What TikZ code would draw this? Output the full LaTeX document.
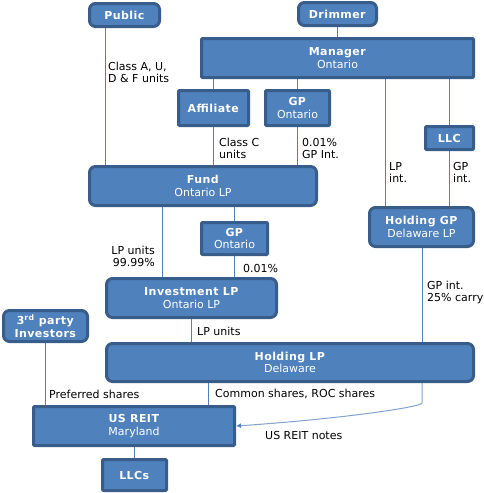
\documentclass[tikz,border=0pt]{standalone}
\usepackage{fontspec}
\setmainfont{DejaVu Sans}[BoldFeatures={LetterSpace=4}]
\usetikzlibrary{arrows.meta,backgrounds}
\definecolor{boxfill}{HTML}{4F81BD}
\definecolor{boxedge}{HTML}{385D8A}
\definecolor{linkc}{HTML}{4F81BD}
\definecolor{notec}{HTML}{7EA3D0}
\tikzset{
  ent/.style={draw=boxedge, fill=boxfill, line width=3pt, text=white, align=center,
    inner sep=0pt, font=\fontsize{11}{12.5}\selectfont, rounded corners=1pt},
  rent/.style={ent, rounded corners=6pt},
  link/.style={draw=linkc, line width=0.8pt},
  lbl/.style={font=\fontsize{11}{12}\selectfont, align=left, inner sep=0pt, anchor=west, text=black}
}
\newcommand{\ttl}[1]{\textbf{#1}}
\begin{document}
\begin{tikzpicture}[x=1pt,y=-1pt]
\useasboundingbox (0,0) rectangle (484,493);
% boxes (outer size minus line width)
\node[rent, minimum width=70pt, minimum height=23pt] (public) at (124.5,15) {\ttl{Public}};
\node[rent, minimum width=78pt, minimum height=23pt] (drimmer) at (337.5,14) {\ttl{Drimmer}};
\node[ent, minimum width=272pt, minimum height=39pt] (manager) at (337.5,58) {\ttl{Manager}\\Ontario};
\node[ent, minimum width=70pt, minimum height=35pt] (affiliate) at (213.5,108) {\ttl{Affiliate}};
\node[ent, minimum width=64pt, minimum height=35pt] (gpa) at (297.5,108) {\ttl{GP}\\Ontario};
\node[ent, minimum width=48pt, minimum height=23pt] (llc) at (449.5,138) {\ttl{LLC}};
\node[rent, minimum width=227pt, minimum height=39pt] (fund) at (203,186) {\ttl{Fund}\\Ontario LP};
\node[rent, minimum width=104pt, minimum height=39pt] (holdgp) at (421.5,227) {\ttl{Holding GP}\\Delaware LP};
\node[ent, minimum width=66pt, minimum height=32pt] (gpb) at (234.5,238.5) {\ttl{GP}\\Ontario};
\node[rent, minimum width=170pt, minimum height=39pt] (invlp) at (191.5,298) {\ttl{Investment LP}\\Ontario LP};
\node[rent, minimum width=84pt, minimum height=31pt] (third) at (45.5,326) {\ttl{3\textsuperscript{rd} party}\\\ttl{Investors}};
\node[rent, minimum width=367pt, minimum height=38pt] (holdlp) at (290,362.5) {\ttl{Holding LP}\\Delaware};
\node[ent, minimum width=201pt, minimum height=39pt] (usreit) at (134,426) {\ttl{US REIT}\\Maryland};
\node[ent, minimum width=64pt, minimum height=31pt] (llcs) at (134.5,475) {\ttl{LLCs}};
% connectors
\begin{scope}[on background layer]
\draw[link] ([xshift=-19.5]public.south) -- ([xshift=-19.5]public.south |- fund.north);
\draw[link] (drimmer.south) -- (drimmer.south |- manager.north);
\draw[link] (affiliate.north |- manager.south) -- (affiliate.north);
\draw[link] (affiliate.south) -- (affiliate.south |- fund.north);
\draw[link] (gpa.north |- manager.south) -- (gpa.north);
\draw[link] (gpa.south) -- (gpa.south |- fund.north);
\draw[link] ([xshift=-36.5]holdgp.north |- manager.south) -- ([xshift=-36.5]holdgp.north);
\draw[link] (llc.north |- manager.south) -- (llc.north);
\draw[link] (llc.south) -- (llc.south |- holdgp.north);
\draw[link] ([xshift=-41]fund.south) -- ([xshift=-41]fund.south |- invlp.north);
\draw[link] (gpb.north |- fund.south) -- (gpb.north);
\draw[link] (gpb.south) -- (gpb.south |- invlp.north);
\draw[link] ([xshift=0.5]holdgp.south) -- ([xshift=0.5]holdgp.south |- holdlp.north);
\draw[link] (invlp.south) -- (invlp.south |- holdlp.north);
\draw[link] (third.south) -- (third.south |- usreit.north);
\draw[link] ([xshift=74]usreit.north |- holdlp.south) -- ([xshift=74]usreit.north);
\draw[link] (usreit.south) -- (usreit.south |- llcs.north);
\draw[draw=notec, line width=1pt, -{Latex[length=5pt,width=5pt,color=linkc]}]
  ([xshift=132]holdlp.south) -- ++(0,20) .. controls +(0,4) and (340,419) .. (usreit.east);
\end{scope}
% labels
\node[lbl] (l1) at (108,72) {Class A, U,\\D \& F units};
\node[lbl] (l2) at (219,148) {Class C\\units};
\node[lbl] (l3) at (302,148) {0.01\%\\GP Int.};
\node[lbl] (l4) at (389,172) {LP\\int.};
\node[lbl] (l5) at (453,172) {GP\\int.};
\node[lbl, anchor=east, align=right] (l6) at (155,256) {LP units\\99.99\%};
\node[lbl] (l7) at (243,268) {0.01\%};
\node[lbl] (l8) at (427,292) {GP int.\\25\% carry};
\node[lbl] (l9) at (197,331) {LP units};
\node[lbl] (l10) at (49,394) {Preferred shares};
\node[lbl] (l11) at (215,394) {Common shares, ROC shares};
\node[lbl] (l12) at (265,435) {US REIT notes};
\end{tikzpicture}
\end{document}
